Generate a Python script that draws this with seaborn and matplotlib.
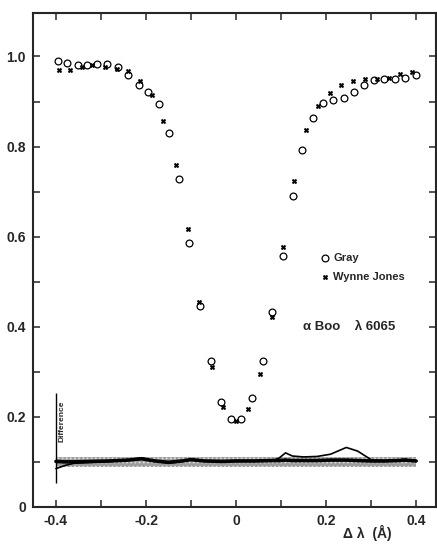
import matplotlib
matplotlib.use('Agg')
import matplotlib.pyplot as plt
import seaborn as sns
import numpy as np
import pandas as pd

# profile: Gray (open circles)
gray_x = [-0.396, -0.375, -0.352, -0.330, -0.309, -0.286, -0.263, -0.241, -0.216,
          -0.195, -0.170, -0.148, -0.126, -0.104, -0.080, -0.056, -0.034, -0.012,
          0.010, 0.036, 0.059, 0.081, 0.104, 0.126, 0.147, 0.170, 0.193, 0.216,
          0.240, 0.261, 0.284, 0.307, 0.329, 0.353, 0.376, 0.400]
gray_y = [0.989, 0.986, 0.980, 0.980, 0.983, 0.984, 0.976, 0.959, 0.937,
          0.921, 0.894, 0.830, 0.727, 0.586, 0.445, 0.323, 0.234, 0.195,
          0.196, 0.241, 0.325, 0.432, 0.558, 0.691, 0.793, 0.863, 0.896, 0.904,
          0.907, 0.922, 0.937, 0.947, 0.949, 0.950, 0.953, 0.959]

# Wynne Jones (small crosses)
wj_x = [-0.393, -0.369, -0.343, -0.320, -0.290, -0.265, -0.241, -0.213, -0.187,
        -0.163, -0.134, -0.106, -0.082, -0.054, -0.028, 0.001, 0.027, 0.053,
        0.080, 0.104, 0.129, 0.156, 0.181, 0.208, 0.233, 0.259, 0.287, 0.313,
        0.339, 0.364, 0.392]
wj_y = [0.970, 0.970, 0.977, 0.981, 0.976, 0.973, 0.967, 0.946, 0.915,
        0.856, 0.759, 0.616, 0.454, 0.310, 0.222, 0.190, 0.218, 0.296,
        0.421, 0.578, 0.723, 0.836, 0.891, 0.918, 0.936, 0.946, 0.949, 0.950,
        0.952, 0.962, 0.965]

# difference curves (offset to 0.1)
diff_x = [-0.40, -0.38, -0.36, -0.32, -0.28, -0.24, -0.21, -0.18, -0.15, -0.12,
          -0.10, -0.07, -0.03, 0.00, 0.04, 0.08, 0.095, 0.11, 0.125, 0.15,
          0.18, 0.21, 0.245, 0.27, 0.30, 0.33, 0.36, 0.375, 0.40]
diff_y = [0.085, 0.092, 0.097, 0.099, 0.101, 0.104, 0.109, 0.102, 0.097, 0.101,
          0.106, 0.102, 0.101, 0.102, 0.102, 0.103, 0.108, 0.120, 0.113, 0.111,
          0.112, 0.117, 0.132, 0.124, 0.105, 0.102, 0.104, 0.106, 0.101]
base_y = [0.101, 0.100, 0.100, 0.101, 0.102, 0.104, 0.107, 0.102, 0.099, 0.102,
          0.105, 0.102, 0.101, 0.102, 0.102, 0.103, 0.103, 0.104, 0.103, 0.103,
          0.103, 0.104, 0.104, 0.103, 0.102, 0.102, 0.103, 0.104, 0.102]
band_lo = 0.089
band_hi = 0.110

xticks = [-0.4, -0.3, -0.2, -0.1, 0.0, 0.1, 0.2, 0.3, 0.4]
xtick_labels = ['-0.4', '', '-0.2', '', '0', '', '0.2', '', '0.4']
yticks = [0.0, 0.1, 0.2, 0.3, 0.4, 0.5, 0.6, 0.7, 0.8, 0.9, 1.0]
ytick_labels = ['0', '', '0.2', '', '0.4', '', '0.6', '', '0.8', '', '1.0']

sns.set_style('ticks')
plt.rcParams['font.family'] = ['Liberation Sans', 'DejaVu Sans']
plt.rcParams['hatch.linewidth'] = 0.8

fig = plt.figure(figsize=(4.37, 5.51), dpi=100)
ax = fig.add_axes([0.0755, 0.080, 0.922, 0.896])

# shaded band + difference curves
ax.fill_between(diff_x, band_lo, band_hi, facecolor='0.62', hatch='....',
                edgecolor='0.88', linewidth=0)
sns.lineplot(x=diff_x, y=base_y, color='black', lw=2.6, ax=ax)
sns.lineplot(x=diff_x, y=diff_y, color='black', lw=1.2, ax=ax)

sns.scatterplot(x=gray_x, y=gray_y, marker='o', s=24, facecolor='white',
                edgecolor='black', linewidth=0.9, ax=ax, label='Gray', zorder=3)
sns.scatterplot(x=wj_x, y=wj_y, marker='X', s=12, color='black',
                edgecolor='black', linewidth=0.3, ax=ax, label='Wynne Jones', zorder=3)

leg = ax.legend(loc='upper left', bbox_to_anchor=(0.685, 0.535), frameon=False,
                handletextpad=0.3, labelspacing=0.8, handlelength=1.0,
                prop={'weight': 'bold', 'size': 8})

ax.text(0.148, 0.40, 'α Boo    λ 6065', fontsize=9.5,
        fontweight='bold', va='center', ha='left')

# difference scale bar
ax.vlines(-0.4, 0.053, 0.253, color='black', lw=1.0)
ax.text(-0.386, 0.19, 'Difference', rotation=90, fontsize=6, fontweight='bold',
        ha='center', va='center')

ax.set_xlim(-0.451, 0.444)
ax.set_ylim(0, 1.096)
ax.set_xticks(xticks)
ax.set_xticklabels(xtick_labels)
ax.set_yticks(yticks)
ax.set_yticklabels(ytick_labels)
ax.tick_params(direction='in', top=True, right=True, length=5, width=1.1,
               labelsize=10, pad=5)
for lab in ax.get_xticklabels() + ax.get_yticklabels():
    lab.set_fontweight('bold')
for sp in ax.spines.values():
    sp.set_linewidth(1.5)

ax.set_xlabel('Δ λ  (Å)', fontsize=10, fontweight='bold')
ax.xaxis.set_label_coords(0.83, -0.036)

plt.savefig('out.png', dpi=100)
